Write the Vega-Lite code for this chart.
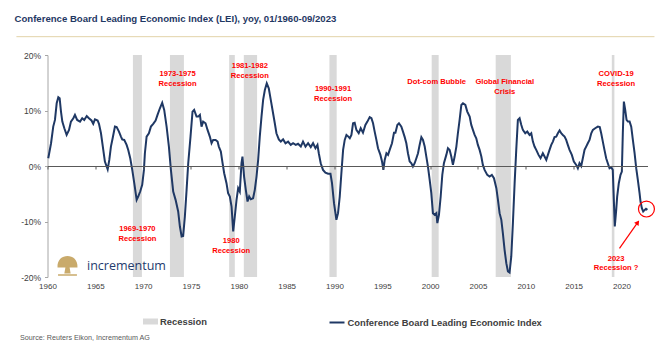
{
  "$schema": "https://vega.github.io/schema/vega-lite/v6.json",
  "width": 600,
  "height": 222,
  "autosize": "none",
  "padding": {"left": 47.5, "top": 55, "right": 15.5, "bottom": 74},
  "background": "white",
  "config": {"view": {"stroke": null}, "font": "Liberation Sans", "axis": {"grid": false}},
  "title": {
    "text": "Conference Board Leading Economic Index (LEI), yoy, 01/1960-09/2023",
    "anchor": "start", "frame": "group", "orient": "top", "offset": 13, "dx": -33,
    "font": "Liberation Sans", "fontSize": 9.6, "fontWeight": "bold", "color": "#1f3864"
  },
  "datasets": {
    "rec": [
      {"year": 1968.93, "year2": 1969.87, "kind": "Recession"},
      {"year": 1972.8, "year2": 1974.26, "kind": "Recession"},
      {"year": 1978.99, "year2": 1979.58, "kind": "Recession"},
      {"year": 1980.52, "year2": 1981.91, "kind": "Recession"},
      {"year": 1989.47, "year2": 1990.23, "kind": "Recession"},
      {"year": 2000.16, "year2": 2000.89, "kind": "Recession"},
      {"year": 2006.85, "year2": 2008.44, "kind": "Recession"},
      {"year": 2018.99, "year2": 2019.26, "kind": "Recession"}
    ],
    "lei": [
      {"year":1960.08,"value":1.4},{"year":1960.37,"value":4.1},{"year":1960.6,"value":7.1},{"year":1960.78,"value":8.3},
      {"year":1960.96,"value":11.3},{"year":1961.13,"value":12.4},{"year":1961.27,"value":12.2},{"year":1961.41,"value":9.8},
      {"year":1961.55,"value":8.0},{"year":1961.76,"value":6.8},{"year":1962.0,"value":5.6},{"year":1962.25,"value":6.5},
      {"year":1962.45,"value":8.0},{"year":1962.7,"value":8.6},{"year":1962.87,"value":9.2},{"year":1963.1,"value":8.3},
      {"year":1963.4,"value":8.0},{"year":1963.63,"value":8.6},{"year":1963.84,"value":8.3},{"year":1964.1,"value":9.0},
      {"year":1964.33,"value":8.6},{"year":1964.6,"value":8.2},{"year":1964.78,"value":7.6},{"year":1964.96,"value":8.4},
      {"year":1965.24,"value":8.2},{"year":1965.38,"value":7.6},{"year":1965.59,"value":5.9},{"year":1965.83,"value":2.9},
      {"year":1966.0,"value":0.8},{"year":1966.29,"value":-0.6},{"year":1966.46,"value":1.1},{"year":1966.63,"value":3.5},
      {"year":1966.81,"value":5.0},{"year":1967.05,"value":7.1},{"year":1967.23,"value":7.0},{"year":1967.47,"value":6.2},
      {"year":1967.68,"value":5.3},{"year":1967.81,"value":4.8},{"year":1968.02,"value":4.7},{"year":1968.27,"value":3.8},
      {"year":1968.44,"value":2.9},{"year":1968.65,"value":1.4},{"year":1968.86,"value":-0.7},{"year":1969.07,"value":-3.1},
      {"year":1969.32,"value":-6.1},{"year":1969.48,"value":-5.5},{"year":1969.69,"value":-4.6},{"year":1969.9,"value":-3.4},
      {"year":1970.08,"value":-0.7},{"year":1970.18,"value":2.3},{"year":1970.36,"value":5.3},{"year":1970.6,"value":5.9},
      {"year":1970.81,"value":7.1},{"year":1971.05,"value":7.6},{"year":1971.3,"value":8.2},{"year":1971.5,"value":9.2},
      {"year":1971.75,"value":10.4},{"year":1971.99,"value":11.4},{"year":1972.2,"value":10.1},{"year":1972.45,"value":7.1},
      {"year":1972.69,"value":3.5},{"year":1972.9,"value":-0.7},{"year":1973.14,"value":-4.6},{"year":1973.39,"value":-6.1},
      {"year":1973.66,"value":-8.2},{"year":1973.84,"value":-10.9},{"year":1974.02,"value":-12.7},{"year":1974.18,"value":-12.6},
      {"year":1974.36,"value":-9.1},{"year":1974.54,"value":-4.3},{"year":1974.71,"value":0.5},{"year":1974.95,"value":5.3},
      {"year":1975.16,"value":9.8},{"year":1975.33,"value":10.1},{"year":1975.58,"value":8.9},{"year":1975.75,"value":8.9},
      {"year":1975.93,"value":9.2},{"year":1976.1,"value":7.1},{"year":1976.27,"value":8.0},{"year":1976.52,"value":7.7},
      {"year":1976.73,"value":6.5},{"year":1976.97,"value":5.3},{"year":1977.15,"value":4.1},{"year":1977.32,"value":4.7},
      {"year":1977.57,"value":4.7},{"year":1977.78,"value":4.4},{"year":1977.91,"value":3.5},{"year":1978.12,"value":2.6},
      {"year":1978.3,"value":0.5},{"year":1978.47,"value":-1.3},{"year":1978.71,"value":-3.1},{"year":1978.88,"value":-4.9},
      {"year":1979.06,"value":-5.5},{"year":1979.24,"value":-7.3},{"year":1979.41,"value":-11.8},{"year":1979.58,"value":-9.1},
      {"year":1979.76,"value":-6.1},{"year":1979.93,"value":-4.0},{"year":1980.1,"value":-4.6},{"year":1980.28,"value":0.5},
      {"year":1980.38,"value":1.7},{"year":1980.55,"value":-1.9},{"year":1980.73,"value":-4.3},{"year":1980.91,"value":-6.4},
      {"year":1981.08,"value":-5.5},{"year":1981.25,"value":-6.0},{"year":1981.49,"value":-5.8},{"year":1981.67,"value":-4.3},
      {"year":1981.85,"value":-1.9},{"year":1982.02,"value":1.1},{"year":1982.19,"value":5.3},{"year":1982.37,"value":8.9},
      {"year":1982.54,"value":11.9},{"year":1982.72,"value":13.7},{"year":1982.92,"value":14.9},{"year":1983.13,"value":14.0},
      {"year":1983.34,"value":11.9},{"year":1983.58,"value":9.5},{"year":1983.76,"value":7.7},{"year":1983.93,"value":5.9},
      {"year":1984.18,"value":4.8},{"year":1984.39,"value":4.4},{"year":1984.63,"value":4.8},{"year":1984.88,"value":4.1},
      {"year":1985.15,"value":4.4},{"year":1985.43,"value":3.8},{"year":1985.67,"value":4.1},{"year":1985.95,"value":3.8},
      {"year":1986.19,"value":4.0},{"year":1986.48,"value":3.5},{"year":1986.71,"value":4.4},{"year":1986.97,"value":3.5},
      {"year":1987.24,"value":4.1},{"year":1987.52,"value":3.4},{"year":1987.76,"value":4.1},{"year":1988.01,"value":3.2},
      {"year":1988.22,"value":3.8},{"year":1988.36,"value":2.3},{"year":1988.56,"value":0.5},{"year":1988.8,"value":-0.7},
      {"year":1989.05,"value":-1.2},{"year":1989.33,"value":-1.4},{"year":1989.58,"value":-1.4},{"year":1989.74,"value":-3.1},
      {"year":1989.95,"value":-6.7},{"year":1990.2,"value":-9.7},{"year":1990.37,"value":-8.5},{"year":1990.55,"value":-5.5},
      {"year":1990.72,"value":-1.3},{"year":1990.9,"value":2.9},{"year":1991.07,"value":4.7},{"year":1991.25,"value":5.6},
      {"year":1991.45,"value":5.3},{"year":1991.6,"value":5.0},{"year":1991.77,"value":5.6},{"year":1991.94,"value":7.7},
      {"year":1992.11,"value":7.8},{"year":1992.29,"value":6.5},{"year":1992.53,"value":5.9},{"year":1992.74,"value":6.8},
      {"year":1992.98,"value":6.0},{"year":1993.23,"value":7.4},{"year":1993.44,"value":8.0},{"year":1993.68,"value":8.8},
      {"year":1993.86,"value":8.6},{"year":1994.03,"value":7.7},{"year":1994.2,"value":6.2},{"year":1994.38,"value":4.7},
      {"year":1994.55,"value":3.2},{"year":1994.8,"value":2.0},{"year":1994.97,"value":0.8},{"year":1995.11,"value":-0.7},
      {"year":1995.25,"value":1.1},{"year":1995.43,"value":2.3},{"year":1995.6,"value":2.0},{"year":1995.77,"value":2.9},
      {"year":1996.01,"value":4.1},{"year":1996.22,"value":6.0},{"year":1996.37,"value":6.0},{"year":1996.57,"value":7.4},
      {"year":1996.74,"value":7.7},{"year":1996.99,"value":7.1},{"year":1997.16,"value":6.2},{"year":1997.34,"value":5.2},
      {"year":1997.51,"value":4.1},{"year":1997.68,"value":2.3},{"year":1997.86,"value":0.8},{"year":1998.04,"value":0.5},
      {"year":1998.2,"value":-0.1},{"year":1998.38,"value":0.5},{"year":1998.56,"value":1.4},{"year":1998.73,"value":2.3},
      {"year":1998.9,"value":3.8},{"year":1999.08,"value":5.2},{"year":1999.25,"value":4.7},{"year":1999.43,"value":3.5},
      {"year":1999.6,"value":1.7},{"year":1999.77,"value":-0.1},{"year":1999.95,"value":-2.5},{"year":2000.12,"value":-4.9},
      {"year":2000.29,"value":-8.5},{"year":2000.47,"value":-8.8},{"year":2000.65,"value":-8.5},{"year":2000.75,"value":-10.3},
      {"year":2000.92,"value":-8.8},{"year":2001.1,"value":-5.5},{"year":2001.27,"value":-1.6},{"year":2001.44,"value":0.5},
      {"year":2001.69,"value":2.0},{"year":2001.86,"value":3.2},{"year":2002.04,"value":2.9},{"year":2002.21,"value":1.7},
      {"year":2002.38,"value":0.2},{"year":2002.56,"value":1.7},{"year":2002.74,"value":3.5},{"year":2002.9,"value":5.9},
      {"year":2003.08,"value":8.3},{"year":2003.26,"value":11.0},{"year":2003.43,"value":11.3},{"year":2003.68,"value":11.0},
      {"year":2003.88,"value":9.8},{"year":2004.13,"value":8.9},{"year":2004.3,"value":7.4},{"year":2004.47,"value":6.5},
      {"year":2004.65,"value":5.6},{"year":2004.82,"value":5.0},{"year":2004.99,"value":3.8},{"year":2005.17,"value":2.9},
      {"year":2005.35,"value":1.7},{"year":2005.51,"value":0.2},{"year":2005.69,"value":-0.7},{"year":2005.97,"value":-1.6},
      {"year":2006.21,"value":-1.9},{"year":2006.45,"value":-1.6},{"year":2006.67,"value":-2.2},{"year":2006.92,"value":-4.0},
      {"year":2007.08,"value":-6.0},{"year":2007.26,"value":-8.5},{"year":2007.44,"value":-9.7},{"year":2007.6,"value":-12.1},
      {"year":2007.78,"value":-15.1},{"year":2007.96,"value":-17.5},{"year":2008.13,"value":-19.0},{"year":2008.3,"value":-19.2},
      {"year":2008.48,"value":-16.3},{"year":2008.65,"value":-10.3},{"year":2008.83,"value":-3.1},{"year":2009.0,"value":2.9},
      {"year":2009.17,"value":8.3},{"year":2009.35,"value":8.6},{"year":2009.53,"value":7.4},{"year":2009.69,"value":6.5},
      {"year":2009.94,"value":5.9},{"year":2010.15,"value":6.2},{"year":2010.39,"value":5.6},{"year":2010.57,"value":5.9},
      {"year":2010.74,"value":4.4},{"year":2010.91,"value":3.5},{"year":2011.09,"value":2.9},{"year":2011.33,"value":2.0},
      {"year":2011.54,"value":1.4},{"year":2011.78,"value":2.3},{"year":2011.96,"value":1.7},{"year":2012.14,"value":1.1},
      {"year":2012.31,"value":2.0},{"year":2012.48,"value":2.9},{"year":2012.66,"value":3.8},{"year":2012.83,"value":4.4},
      {"year":2013.0,"value":5.2},{"year":2013.18,"value":5.3},{"year":2013.35,"value":5.9},{"year":2013.53,"value":6.4},
      {"year":2013.7,"value":5.9},{"year":2013.87,"value":5.6},{"year":2014.05,"value":5.3},{"year":2014.22,"value":4.7},
      {"year":2014.39,"value":3.8},{"year":2014.57,"value":2.9},{"year":2014.81,"value":2.0},{"year":2015.02,"value":0.8},
      {"year":2015.27,"value":0.2},{"year":2015.44,"value":-0.4},{"year":2015.61,"value":0.5},{"year":2015.79,"value":0.0},
      {"year":2015.96,"value":1.4},{"year":2016.14,"value":2.9},{"year":2016.31,"value":3.5},{"year":2016.48,"value":4.1},
      {"year":2016.66,"value":4.7},{"year":2016.84,"value":5.9},{"year":2017.01,"value":6.5},{"year":2017.25,"value":6.8},
      {"year":2017.53,"value":7.1},{"year":2017.73,"value":7.0},{"year":2017.88,"value":5.9},{"year":2018.05,"value":4.4},
      {"year":2018.22,"value":2.9},{"year":2018.4,"value":1.4},{"year":2018.57,"value":0.5},{"year":2018.75,"value":-0.4},
      {"year":2018.92,"value":-0.2},{"year":2019.09,"value":-0.7},{"year":2019.2,"value":-6.1},{"year":2019.3,"value":-10.9},
      {"year":2019.45,"value":-7.9},{"year":2019.55,"value":-5.5},{"year":2019.72,"value":-3.1},{"year":2019.9,"value":-1.6},
      {"year":2020.04,"value":-1.0},{"year":2020.14,"value":5.9},{"year":2020.25,"value":11.6},{"year":2020.39,"value":10.1},
      {"year":2020.53,"value":8.3},{"year":2020.67,"value":8.0},{"year":2020.85,"value":8.0},{"year":2021.02,"value":7.1},
      {"year":2021.19,"value":4.7},{"year":2021.37,"value":2.3},{"year":2021.54,"value":-0.4},{"year":2021.71,"value":-2.5},
      {"year":2021.89,"value":-4.9},{"year":2021.99,"value":-6.4},{"year":2022.13,"value":-7.6},{"year":2022.27,"value":-8.2},
      {"year":2022.43,"value":-7.9},{"year":2022.56,"value":-7.7},{"year":2022.71,"value":-7.9}
    ],
    "notes": [
      {"year": 1973.6, "value": 16.5, "text": "1973-1975"},
      {"year": 1973.6, "value": 14.7, "text": "Recession"},
      {"year": 1969.4, "value": -11.4, "text": "1969-1970"},
      {"year": 1969.4, "value": -13.2, "text": "Recession"},
      {"year": 1981.15, "value": 18.0, "text": "1981-1982"},
      {"year": 1981.15, "value": 16.2, "text": "Recession"},
      {"year": 1979.2, "value": -13.6, "text": "1980"},
      {"year": 1979.2, "value": -15.3, "text": "Recession"},
      {"year": 1989.85, "value": 13.8, "text": "1990-1991"},
      {"year": 1989.85, "value": 12.1, "text": "Recession"},
      {"year": 2000.68, "value": 15.1, "text": "Dot-com Bubble"},
      {"year": 2007.8, "value": 15.1, "text": "Global Financial"},
      {"year": 2007.8, "value": 13.4, "text": "Crisis"},
      {"year": 2019.44, "value": 16.5, "text": "COVID-19"},
      {"year": 2019.44, "value": 14.7, "text": "Recession"},
      {"year": 2019.44, "value": -16.8, "text": "2023"},
      {"year": 2019.44, "value": -18.4, "text": "Recession ?"}
    ]
  },
  "layer": [
    {
      "data": {"name": "rec"},
      "mark": {"type": "rect"},
      "encoding": {
        "x": {"field": "year", "type": "quantitative", "title": null, "scale": {"domain": [1960, 2022.72], "nice": false, "zero": false}},
        "x2": {"field": "year2"},
        "y": {"datum": -20, "type": "quantitative", "title": null, "scale": {"domain": [-20, 20], "nice": false, "zero": false}},
        "y2": {"datum": 20},
        "fill": {"field": "kind", "type": "nominal", "scale": {"range": ["#d9d9d9"]},
          "legend": {"orient": "none", "legendX": 95.5, "legendY": 259, "title": null, "padding": 0,
            "symbolType": "M-1,-0.4H1V0.4H-1Z", "symbolSize": 225, "symbolStrokeWidth": 0,
            "labelFont": "Liberation Sans", "labelFontSize": 9.4, "labelFontWeight": "bold",
            "labelColor": "#404040", "labelOffset": 2, "labelLimit": 0}}
      }
    },
    {
      "data": {"values": [{"a": 1}]},
      "mark": {"type": "rule", "color": "#e2d3a8", "strokeWidth": 1},
      "encoding": {
        "x": {"datum": 1956.75, "type": "quantitative", "title": null, "scale": {"domain": [1960, 2022.72], "nice": false, "zero": false}},
        "x2": {"datum": 2023.45},
        "y": {"datum": 23.3, "type": "quantitative", "title": null, "scale": {"domain": [-20, 20], "nice": false, "zero": false}}
      }
    },
    {
      "data": {"name": "lei"},
      "mark": {"type": "line", "strokeWidth": 2, "interpolate": "linear"},
      "encoding": {
        "x": {"field": "year", "type": "quantitative", "title": null,
          "scale": {"domain": [1960, 2022.72], "nice": false, "zero": false},
          "axis": {"values": [1960,1965,1970,1975,1980,1985,1990,1995,2000,2005,2010,2015,2020], "format": "d",
            "offset": -111, "zindex": 1, "domainColor": "#595959", "domainWidth": 1, "tickColor": "#595959", "tickSize": 3,
            "labelPadding": 113, "labelFontSize": 8, "labelColor": "#404040", "labelFont": "Liberation Sans", "labelFlush": false}},
        "y": {"field": "value", "type": "quantitative", "title": null,
          "scale": {"domain": [-20, 20], "nice": false, "zero": false},
          "axis": {"values": [-20,-15,-10,-5,0,5,10,15,20], "labelExpr": "datum.value + '%'",
            "domainColor": "#a6a6a6", "tickColor": "#a6a6a6", "tickSize": 3, "labelPadding": 4,
            "labelFontSize": 8.5, "labelColor": "#404040", "labelFont": "Liberation Sans"}},
        "stroke": {"datum": "Conference Board Leading Economic Index", "type": "nominal", "scale": {"range": ["#1f3864"]},
          "legend": {"orient": "none", "legendX": 281, "legendY": 259, "title": null, "padding": 0,
            "symbolType": "stroke", "symbolSize": 225, "symbolStrokeWidth": 2,
            "labelFont": "Liberation Sans", "labelFontSize": 9.4, "labelFontWeight": "bold",
            "labelColor": "#404040", "labelOffset": 2, "labelLimit": 0}}
      }
    },
    {
      "data": {"name": "notes"},
      "mark": {"type": "text", "color": "#ff0000", "fontWeight": "bold", "fontSize": 7.6, "font": "Liberation Sans", "align": "center", "baseline": "middle"},
      "encoding": {
        "x": {"field": "year", "type": "quantitative", "title": null, "scale": {"domain": [1960, 2022.72], "nice": false, "zero": false}},
        "y": {"field": "value", "type": "quantitative", "title": null, "scale": {"domain": [-20, 20], "nice": false, "zero": false}},
        "text": {"field": "text"}
      }
    },
    {
      "data": {"values": [{"year": 2022.61, "value": -7.75}]},
      "mark": {"type": "point", "shape": "circle", "filled": false, "color": "#ff0000", "strokeWidth": 1.2, "size": 254, "opacity": 1},
      "encoding": {
        "x": {"field": "year", "type": "quantitative", "title": null, "scale": {"domain": [1960, 2022.72], "nice": false, "zero": false}},
        "y": {"field": "value", "type": "quantitative", "title": null, "scale": {"domain": [-20, 20], "nice": false, "zero": false}}
      }
    },
    {
      "data": {"values": [{"year": 2019.79, "value": -14.83, "year2": 2021.7, "value2": -10.16}]},
      "mark": {"type": "rule", "color": "#ff0000", "strokeWidth": 1.2},
      "encoding": {
        "x": {"field": "year", "type": "quantitative", "title": null, "scale": {"domain": [1960, 2022.72], "nice": false, "zero": false}},
        "y": {"field": "value", "type": "quantitative", "title": null, "scale": {"domain": [-20, 20], "nice": false, "zero": false}},
        "x2": {"field": "year2"},
        "y2": {"field": "value2"}
      }
    },
    {
      "data": {"values": [{"year": 2021.7, "value": -10.16}]},
      "mark": {"type": "point", "shape": "triangle-up", "filled": true, "color": "#ff0000", "size": 30, "angle": 35.5, "opacity": 1},
      "encoding": {
        "x": {"field": "year", "type": "quantitative", "title": null, "scale": {"domain": [1960, 2022.72], "nice": false, "zero": false}},
        "y": {"field": "value", "type": "quantitative", "title": null, "scale": {"domain": [-20, 20], "nice": false, "zero": false}}
      }
    },
    {
      "data": {"values": [{"year": 1962.09, "value": -18.0}]},
      "mark": {"type": "point", "filled": true, "color": "#c9aa6b", "size": 441, "opacity": 1,
        "shape": "M-0.95,0.15C-1,-0.6 -0.5,-0.95 0,-0.95C0.5,-0.95 1,-0.6 0.95,0.15L0.2,0.15L0.3,0.72L-0.3,0.72L-0.2,0.15Z M-0.9,0.8H0.9V0.95H-0.9Z"},
      "encoding": {
        "x": {"field": "year", "type": "quantitative", "title": null, "scale": {"domain": [1960, 2022.72], "nice": false, "zero": false}},
        "y": {"field": "value", "type": "quantitative", "title": null, "scale": {"domain": [-20, 20], "nice": false, "zero": false}}
      }
    },
    {
      "data": {"values": [{"year": 1964.13, "value": -18.1, "text": "incrementum"}]},
      "mark": {"type": "text", "align": "left", "baseline": "middle", "font": "Open Sans", "fontSize": 12.5, "color": "#243b6e"},
      "encoding": {
        "x": {"field": "year", "type": "quantitative", "title": null, "scale": {"domain": [1960, 2022.72], "nice": false, "zero": false}},
        "y": {"field": "value", "type": "quantitative", "title": null, "scale": {"domain": [-20, 20], "nice": false, "zero": false}},
        "text": {"field": "text"}
      }
    },
    {
      "data": {"values": [{"year": 1957.13, "value": -31.0, "text": "Source: Reuters Eikon, Incrementum AG"}]},
      "mark": {"type": "text", "align": "left", "baseline": "middle", "font": "Liberation Sans", "fontSize": 7.2, "color": "#595959"},
      "encoding": {
        "x": {"field": "year", "type": "quantitative", "title": null, "scale": {"domain": [1960, 2022.72], "nice": false, "zero": false}},
        "y": {"field": "value", "type": "quantitative", "title": null, "scale": {"domain": [-20, 20], "nice": false, "zero": false}},
        "text": {"field": "text"}
      }
    }
  ]
}
